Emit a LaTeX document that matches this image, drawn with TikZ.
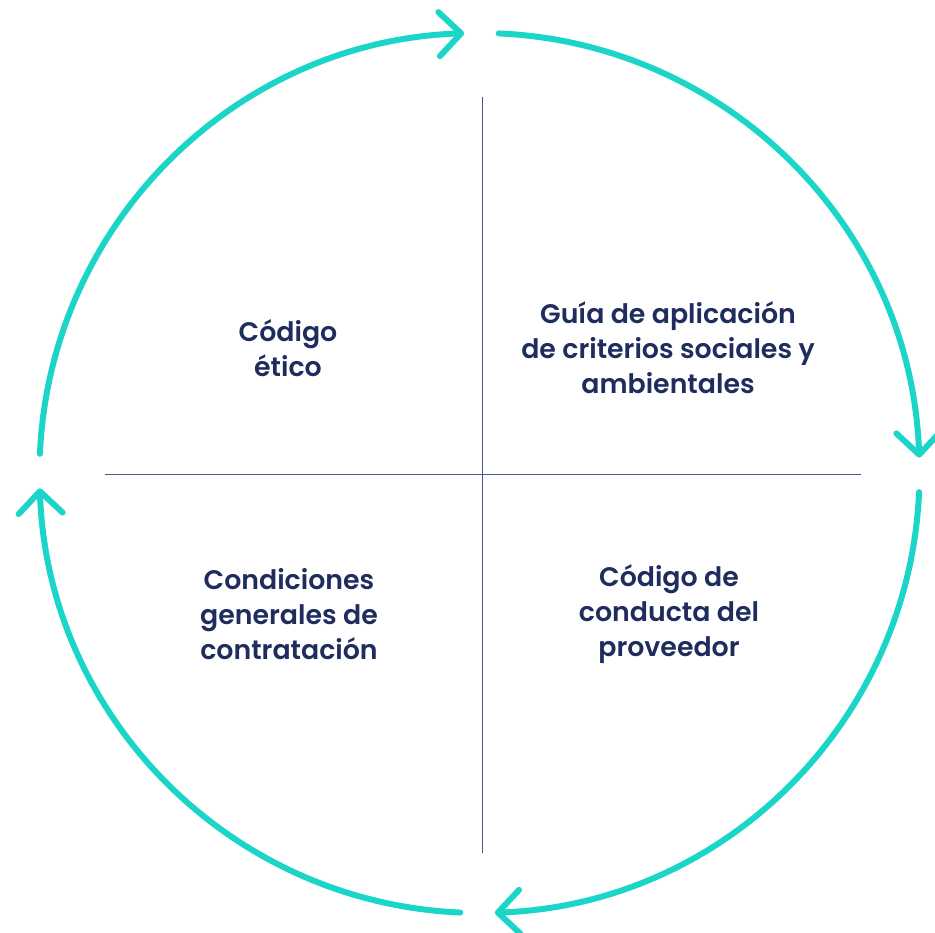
\documentclass[tikz,border=0pt]{standalone}
\usepackage{fontspec}
\setmainfont{Poppins}[UprightFont=* SemiBold]
\usetikzlibrary{arrows.meta,calc}
\definecolor{turq}{HTML}{1BD6C8}
\definecolor{navy}{HTML}{1F2D5E}
\definecolor{rule}{HTML}{4A5890}
\tikzset{
  cyclearc/.style={turq, line width=6pt, line cap=round,
    -{Straight Barb[length=22pt, width=44pt, line cap=round, line join=round]}},
  quadtext/.style={navy, align=center, font=\fontsize{26.8}{35}\selectfont},
  divider/.style={rule, line width=1.2pt}
}
\begin{document}
\begin{tikzpicture}[x=1pt, y=1pt]
  \useasboundingbox (0,0) rectangle (935,933);
  \coordinate (c) at (479.5,460);

  % cycle arrows
  \foreach \k in {0,1,2,3}
    \draw[cyclearc] ($(c)+({177.5-90*\k}:440pt)$)
      arc[start angle={177.5-90*\k}, end angle={92-90*\k}, radius=440];

  % quadrant dividers
  \coordinate (vtop) at (482.7,836);
  \coordinate (vbot) at (482.7,80);
  \coordinate (hleft) at (105,458.5);
  \coordinate (hright) at (861,458.5);
  \draw[divider] (vtop) -- (vbot);
  \draw[divider] (hleft) -- (hright);

  \node[quadtext] (etico) at (288,585) {Código\\ético};
  \node[quadtext] (guia) at (668,585) {Guía de aplicación\\de criterios sociales y\\ambientales};
  \node[quadtext] (condiciones) at (289,319) {Condiciones\\generales de\\contratación};
  \node[quadtext] (conducta) at (669,319) {Código de\\conducta del\\proveedor};
\end{tikzpicture}
\end{document}
